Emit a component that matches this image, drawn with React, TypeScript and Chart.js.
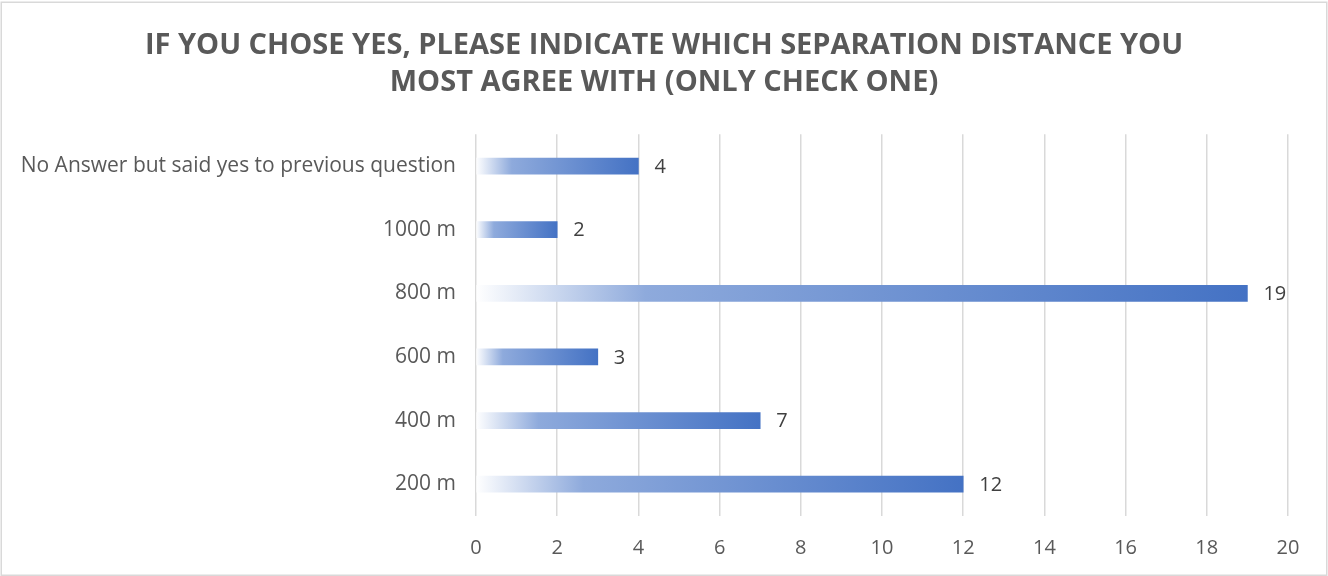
import React, { useEffect, useRef } from "react";
import { Chart, registerables } from "chart.js";

Chart.register(...registerables);

const categories = [
  "No Answer but said yes to previous question",
  "1000 m",
  "800 m",
  "600 m",
  "400 m",
  "200 m",
];
const responses = [4, 2, 19, 3, 7, 12];
const xTicks = [0, 2, 4, 6, 8, 10, 12, 14, 16, 18, 20];
const titleLines = [
  "IF YOU CHOSE YES, PLEASE INDICATE WHICH SEPARATION DISTANCE YOU",
  "MOST AGREE WITH (ONLY CHECK ONE)",
];

const FONT = "'Open Sans', sans-serif";

const borderPlugin = {
  id: "outerBorder",
  beforeDraw(chart: any) {
    const { ctx, width, height } = chart;
    ctx.save();
    ctx.fillStyle = "#ffffff";
    ctx.fillRect(0, 0, width, height);
    ctx.strokeStyle = "#d9d9d9";
    ctx.lineWidth = 1.5;
    ctx.strokeRect(1.25, 2.25, width - 2.5, height - 3);
    ctx.restore();
  },
  afterLayout(chart: any) {
    // centre the title block over the whole canvas
    const tb = chart.titleBlock;
    if (tb) {
      tb.left = 0;
      tb.right = chart.width;
      tb.width = chart.width;
    }
  },
};

const labelPlugin = {
  id: "barLabels",
  afterDatasetsDraw(chart: any) {
    const { ctx } = chart;
    const meta = chart.getDatasetMeta(0);
    ctx.save();
    ctx.font = `20px ${FONT}`;
    ctx.fillStyle = "#404040";
    ctx.textAlign = "left";
    ctx.textBaseline = "middle";
    meta.data.forEach((bar: any, i: number) => {
      ctx.fillText(String(responses[i]), bar.x + 16, bar.y + 1);
    });
    ctx.restore();
  },
};

export default function App() {
  const ref = useRef<HTMLCanvasElement>(null);
  useEffect(() => {
    document.body.style.margin = "0";
    const chart = new Chart(ref.current!, {
      type: "bar",
      data: {
        labels: categories,
        datasets: [
          {
            data: responses,
            barThickness: 16,
            backgroundColor: (c: any) => {
              const ch = c.chart;
              const xs = ch.scales?.x;
              if (!xs || !ch.chartArea) return "#4472c4";
              const x0 = xs.getPixelForValue(0);
              const x1 = xs.getPixelForValue(c.raw);
              const g = ch.ctx.createLinearGradient(x0, 0, x1, 0);
              g.addColorStop(0, "#ffffff");
              g.addColorStop(0.22, "#8eaadc");
              g.addColorStop(1, "#4472c4");
              return g;
            },
          },
        ],
      },
      options: {
        indexAxis: "y",
        animation: false,
        responsive: false,
        maintainAspectRatio: false,
        layout: { padding: { left: 0, right: 40, top: 0, bottom: 0 } },
        plugins: {
          legend: { display: false },
          tooltip: { enabled: false },
          title: {
            display: true,
            text: titleLines,
            color: "#595959",
            font: { family: FONT, size: 29, weight: "bold", lineHeight: 1.28 },
            padding: { top: 27, bottom: 33 },
          },
        },
        scales: {
          x: {
            min: 0,
            max: 20,
            afterBuildTicks: (s: any) => {
              s.ticks = xTicks.map((v) => ({ value: v }));
            },
            afterFit: (s: any) => {
              s.height = 60;
            },
            grid: { color: "#d9d9d9", lineWidth: 1.5, drawTicks: false },
            border: { display: false },
            ticks: {
              color: "#595959",
              font: { family: FONT, size: 20 },
              padding: 20,
            },
          },
          y: {
            afterFit: (s: any) => {
              s.width = 476;
            },
            grid: { display: false },
            border: { display: false },
            ticks: {
              color: "#595959",
              font: { family: FONT, size: 21 },
              padding: 12,
            },
          },
        },
      },
      plugins: [borderPlugin, labelPlugin],
    } as any);
    return () => chart.destroy();
  }, []);
  return (
    <div style={{ width: 1328, height: 576 }}>
      <canvas ref={ref} width={1328} height={576} style={{ display: "block" }} />
    </div>
  );
}
